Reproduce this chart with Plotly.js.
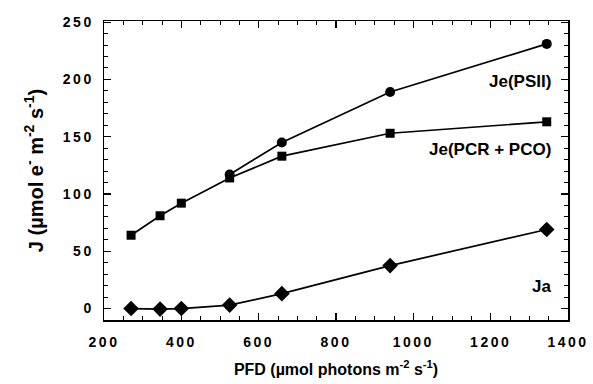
<!DOCTYPE html>
<html>
<head>
<meta charset="utf-8">
<script src="https://cdn.plot.ly/plotly-3.0.1.min.js"></script>
<style>
body{margin:0;background:#fff;}
#chart{width:593px;height:384px;}
.xtick text,.ytick text{letter-spacing:2.5px !important;font-weight:bold !important;}
</style>
</head>
<body>
<div id="chart"></div>
<script>
const pfd = [270, 345, 400, 525, 660, 940, 1345];
const jePSIIx = [525, 660, 940, 1345];
const jePSII = [117, 145, 189, 231];
const jePCR = [64, 81, 92, 114, 133, 153, 163];
const ja = [0, -0.5, 0, 3, 13, 37.5, 69];
const seriesLabels = ['Je(PSII)', 'Je(PCR + PCO)', 'Ja'];
const labelY = [198, 139, 19];
const labelX = [1362, 1362, 1362];

const lineStyle = {color: '#000', width: 1.7};
const traces = [
  {x: jePSIIx, y: jePSII, mode: 'lines+markers', line: lineStyle,
   marker: {symbol: 'circle', size: 10, color: '#000'}, name: seriesLabels[0]},
  {x: pfd, y: jePCR, mode: 'lines+markers', line: lineStyle,
   marker: {symbol: 'square', size: 9, color: '#000'}, name: seriesLabels[1]},
  {x: pfd, y: ja, mode: 'lines+markers', line: lineStyle,
   marker: {symbol: 'diamond', size: 12, color: '#000'}, name: seriesLabels[2]}
];

const fam = 'Liberation Sans, Arial, sans-serif';
const layout = {
  width: 593, height: 384,
  margin: {l: 104, r: 25, t: 21, b: 64},
  showlegend: false,
  paper_bgcolor: '#fff', plot_bgcolor: '#fff',
  font: {family: fam, color: '#000'},
  xaxis: {
    range: [200, 1400], dtick: 200, tick0: 200,
    showgrid: false, zeroline: false,
    showline: true, linecolor: '#000', linewidth: 1.5, mirror: 'allticks',
    ticks: 'inside', ticklen: 7, tickwidth: 1.2, tickcolor: '#000',
    minor: {dtick: 50, ticks: 'inside', ticklen: 4, tickwidth: 1, tickcolor: '#000'},
    tickfont: {family: fam, size: 14, weight: 'bold', color: '#000'},
    ticklabelstandoff: 9,
    title: {text: '<b>PFD (µmol photons m<sup>-2</sup> s<sup>-1</sup>)</b>', font: {family: fam, size: 16, color: '#000'}, standoff: 14}
  },
  yaxis: {
    range: [-10, 251], dtick: 50, tick0: 0,
    showgrid: false, zeroline: false,
    showline: true, linecolor: '#000', linewidth: 1.5, mirror: 'allticks',
    ticks: 'inside', ticklen: 7, tickwidth: 1.2, tickcolor: '#000',
    minor: {dtick: 10, ticks: 'inside', ticklen: 4, tickwidth: 1, tickcolor: '#000'},
    tickfont: {family: fam, size: 14, weight: 'bold', color: '#000'},
    ticklabelstandoff: 6,
    title: {text: '<b>J (µmol e<sup>-</sup> m<sup>-2</sup> s<sup>-1</sup>)</b>', font: {family: fam, size: 20, color: '#000'}, standoff: 14}
  },
  annotations: seriesLabels.map((t, i) => ({
    x: labelX[i], y: labelY[i], xref: 'x', yref: 'y', text: '<b>' + t + '</b>',
    showarrow: false, xanchor: 'right', yanchor: 'middle',
    font: {family: fam, size: 17, color: '#000'}
  }))
};
Plotly.newPlot('chart', traces, layout, {displayModeBar: false, staticPlot: true});
</script>
</body>
</html>
